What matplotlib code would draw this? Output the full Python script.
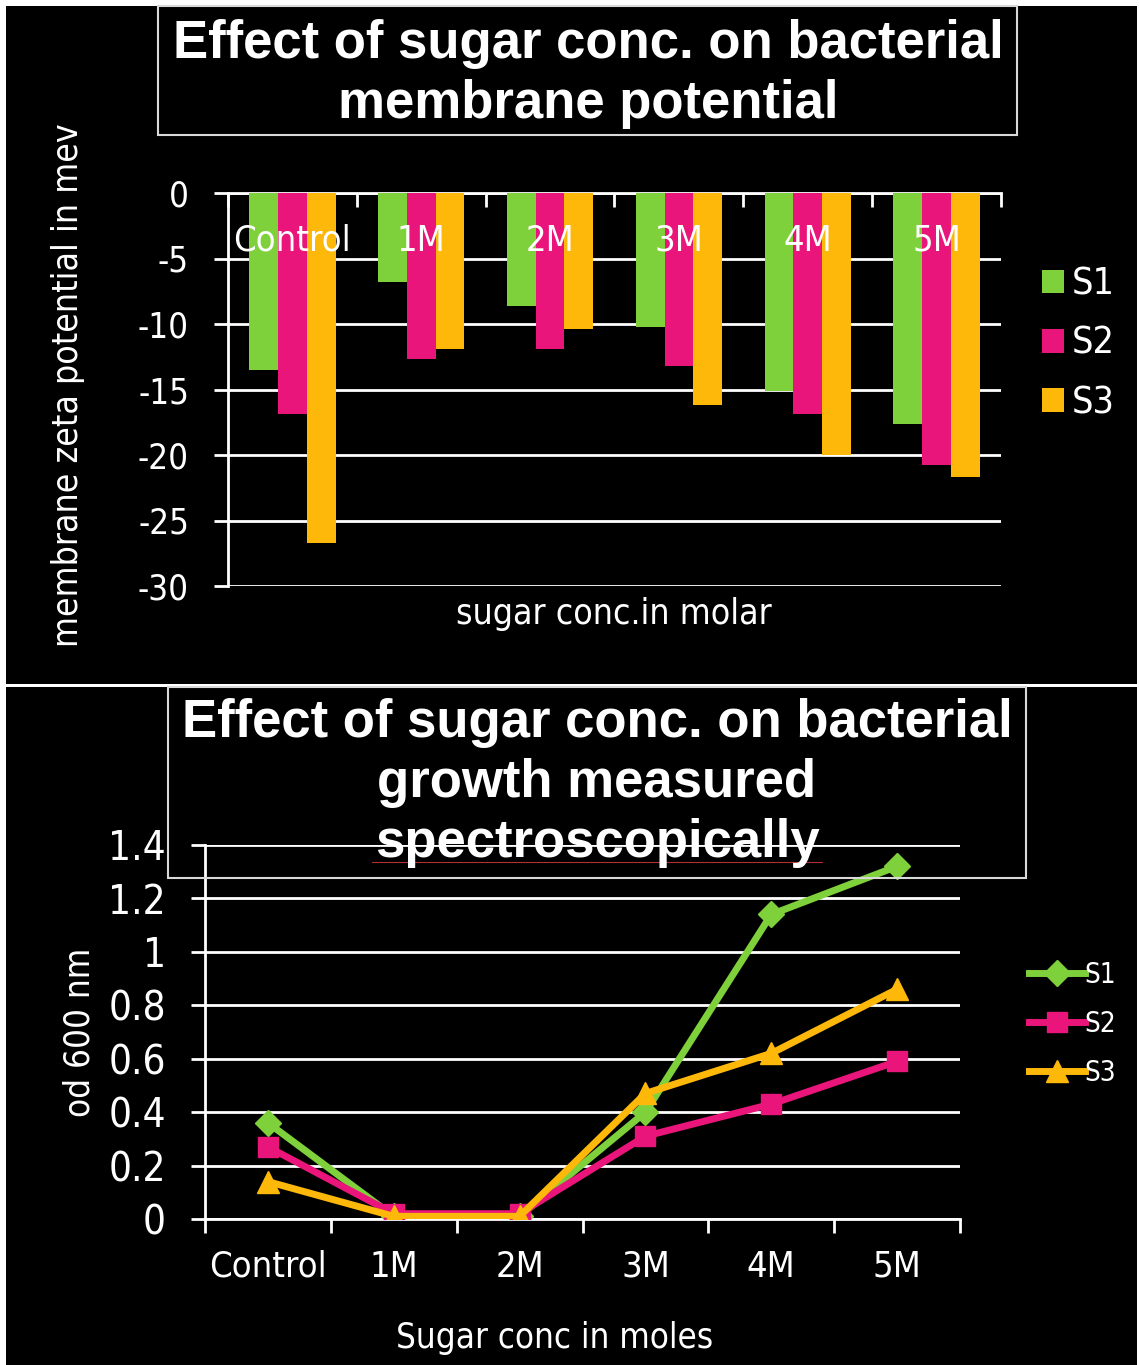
import matplotlib.pyplot as plt
import numpy as np
from matplotlib.patches import Rectangle
from matplotlib.lines import Line2D
from matplotlib import font_manager

# data
categories = ['Control', '1M', '2M', '3M', '4M', '5M']
series = ['S1', 'S2', 'S3']

zeta_s1 = [-13.5, -6.8, -8.6, -10.2, -15.1, -17.6]
zeta_s2 = [-16.9, -12.7, -11.9, -13.2, -16.9, -20.8]
zeta_s3 = [-26.7, -11.9, -10.4, -16.2, -20.0, -21.7]
zeta_ticks = [0, -5, -10, -15, -20, -25, -30]

od_s1 = [0.36, 0.01, 0.01, 0.40, 1.14, 1.32]
od_s2 = [0.27, 0.02, 0.02, 0.31, 0.43, 0.59]
od_s3 = [0.14, 0.01, 0.01, 0.47, 0.62, 0.86]
od_ticks = [0, 0.2, 0.4, 0.6, 0.8, 1.0, 1.2, 1.4]
od_ticklabels = ['0', '0.2', '0.4', '0.6', '0.8', '1', '1.2', '1.4']

colors = ['#7FD13B', '#EA157A', '#FEB80A']
markers = ['D', 's', '^']


def nfont(size):
    # condensed face for the thin chart text
    return font_manager.FontProperties(family='DejaVu Sans', stretch='condensed', size=size)


bold = ['Liberation Sans', 'DejaVu Sans']

W, H = 1139, 1365
fig = plt.figure(figsize=(W / 100, H / 100), dpi=100, facecolor='white')


def box(x0, y0, x1, y1):
    # pixel box (top-left origin) -> figure fraction rect
    return [x0 / W, 1 - y1 / H, (x1 - x0) / W, (y1 - y0) / H]


def panel(x0, y0, x1, y1, face, edge, lw, z):
    l, b, w, h = box(x0, y0, x1, y1)
    fig.patches.append(Rectangle((l, b), w, h, transform=fig.transFigure,
                                 facecolor=face, edgecolor=edge, lw=lw, zorder=z))


# black slide backgrounds
panel(6, 6, 1137, 684, 'black', 'none', 0, -2)
panel(6, 687, 1137, 1365, 'black', 'none', 0, -2)
# title frames
panel(158, 6, 1017, 135, 'none', '#D9D9D9', 1.5, 1)
panel(168, 687, 1026, 878, 'none', '#D9D9D9', 1.5, 1)

# ---------------- top: bar chart ----------------
ax1 = fig.add_axes(box(228, 193, 1001, 586))
ax1.set_facecolor('black')
x = np.arange(len(categories))
w = 0.223
bars = []
for i, vals in enumerate([zeta_s1, zeta_s2, zeta_s3]):
    b = ax1.bar(x + (i - 1) * w, vals, w, color=colors[i], label=series[i], zorder=3)
    bars.append(b)
ax1.set_xlim(-0.5, 5.5)
ax1.set_ylim(-30, 0)
ax1.set_yticks(zeta_ticks)
ax1.set_yticklabels([str(t) for t in zeta_ticks], color='white', fontproperties=nfont(25))
ax1.yaxis.grid(True, color='white', lw=2)
ax1.set_axisbelow(True)
ax1.xaxis.tick_top()
ax1.set_xticks(np.arange(-0.5, 6, 1))
ax1.set_xticklabels([])
ax1.tick_params(axis='x', direction='in', length=10, width=2, color='white')
ax1.tick_params(axis='y', direction='out', length=10, width=2, color='white', pad=18)
for s in ['bottom', 'right']:
    ax1.spines[s].set_visible(False)
for s in ['top', 'left']:
    ax1.spines[s].set_color('white')
    ax1.spines[s].set_linewidth(2)
for i, cat in enumerate(categories):
    ax1.text(i, -3.65, cat, ha='center', va='center', color='white',
             fontproperties=nfont(26), zorder=5)

fig.text(588 / W, 1 - 74 / H, 'Effect of sugar conc. on bacterial\nmembrane potential',
         ha='center', va='center', color='white', fontsize=38, fontweight='bold',
         family=bold, linespacing=1.27)
fig.text(68 / W, 1 - 385 / H, 'membrane zeta potential in mev', rotation=90,
         ha='center', va='center', color='white', fontproperties=nfont(25.5))
fig.text(614 / W, 1 - 614 / H, 'sugar conc.in molar', ha='center', va='center',
         color='white', fontproperties=nfont(25.5))
fig.legend(handles=bars, labels=series, loc='center left',
           bbox_to_anchor=(1008 / W, 1 - 344 / H), frameon=False,
           prop=nfont(27), labelcolor='white',
           handlelength=0.6, handleheight=0.6, handletextpad=0.2, labelspacing=0.62)

# ---------------- bottom: line chart ----------------
ax2 = fig.add_axes(box(205, 845, 960, 1219))
ax2.set_facecolor('none')
lines = []
for i, vals in enumerate([od_s1, od_s2, od_s3]):
    ms = 16 if markers[i] == '^' else (13 if markers[i] == 'D' else 15)
    ln, = ax2.plot(x, vals, color=colors[i], lw=5, marker=markers[i],
                   markersize=ms, label=series[i], zorder=4)
    lines.append(ln)
ax2.set_xlim(-0.5, 5.5)
ax2.set_ylim(0, 1.4)
ax2.set_yticks(od_ticks)
ax2.set_yticklabels(od_ticklabels, color='white', fontproperties=nfont(29))
ax2.yaxis.grid(True, color='white', lw=2)
ax2.set_axisbelow(True)
ax2.set_xticks(x)
ax2.set_xticklabels(categories, color='white', fontproperties=nfont(26))
ax2.set_xticks(np.arange(-0.5, 6, 1), minor=True)
ax2.tick_params(axis='x', which='major', length=0, pad=22)
ax2.tick_params(axis='x', which='minor', direction='out', length=10, width=2, color='white')
ax2.tick_params(axis='y', direction='out', length=10, width=2, color='white', pad=18)
for s in ['top', 'right']:
    ax2.spines[s].set_visible(False)
for s in ['bottom', 'left']:
    ax2.spines[s].set_color('white')
    ax2.spines[s].set_linewidth(2)

fig.text(597 / W, 1 - 783 / H,
         'Effect of sugar conc. on bacterial\ngrowth measured\nspectroscopically',
         ha='center', va='center', color='white', fontsize=38, fontweight='bold',
         family=bold, linespacing=1.26, zorder=5)
fig.add_artist(Line2D([372 / W, 822 / W], [1 - 862 / H, 1 - 862 / H],
                      color='#B03030', lw=0.8))
fig.text(80 / W, 1 - 1032 / H, 'od 600 nm', rotation=90, ha='center', va='center',
         color='white', fontproperties=nfont(25))
fig.text(555 / W, 1 - 1338 / H, 'Sugar conc in moles', ha='center', va='center',
         color='white', fontproperties=nfont(25))
fig.legend(handles=lines, labels=series, loc='center left',
           bbox_to_anchor=(1004 / W, 1 - 1024 / H), frameon=False,
           prop=nfont(20), labelcolor='white',
           handlelength=2.0, handletextpad=0.0, labelspacing=0.75)

fig.savefig('out.png', dpi=100, facecolor='white')
